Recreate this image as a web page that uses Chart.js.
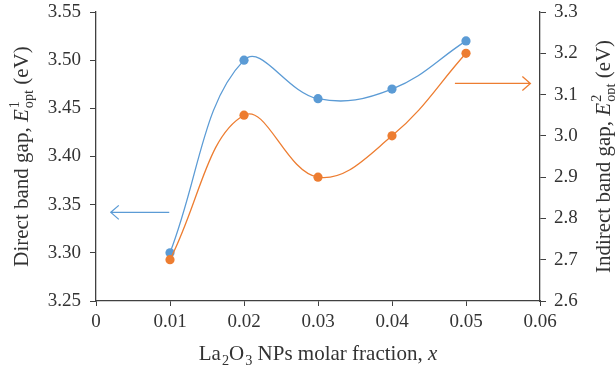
<!DOCTYPE html>
<html>
<head>
<meta charset="utf-8">
<title>La2O3 band gap</title>
<script src="https://cdn.jsdelivr.net/npm/chart.js@4.4.1/dist/chart.umd.min.js"></script>
<style>
  html, body { margin: 0; padding: 0; background: #fff; }
  canvas { display: block; }
</style>
</head>
<body>
<canvas id="gapChart" width="615" height="370"></canvas>
<script>
// values
const molarFraction = [0.01, 0.02, 0.03, 0.04, 0.05];
const directGap = [3.30, 3.50, 3.46, 3.47, 3.52];     // left axis, E1opt
const indirectGap = [2.70, 3.05, 2.90, 3.00, 3.20];   // right axis, E2opt

const xTicks = [0, 0.01, 0.02, 0.03, 0.04, 0.05, 0.06];
const leftTicks = [3.25, 3.30, 3.35, 3.40, 3.45, 3.50, 3.55];
const rightTicks = [2.6, 2.7, 2.8, 2.9, 3.0, 3.1, 3.2, 3.3];

// arrows pointing at each series' axis (data units)
const blueArrow = { from: 0.0099, to: 0.0020, at: 3.342, axis: "y" };
const orangeArrow = { from: 0.0485, to: 0.0587, at: 3.127, axis: "y2" };

const BLUE = "#5B9BD5";
const ORANGE = "#ED7D31";
const AXIS = "#404040";
const FONT = "'Liberation Serif', 'DejaVu Serif', serif";

// axis titles with sub/superscripts
const leftTitle = [{ t: "Direct band gap, " }, { t: "E", it: true }, { sup: "1", sub: "opt" }, { t: " (eV)" }];
const rightTitle = [{ t: "Indirect band gap, " }, { t: "E", it: true }, { sup: "2", sub: "opt" }, { t: " (eV)" }];
const bottomTitle = [{ t: "La" }, { sub: "2" }, { t: "O" }, { sub: "3" }, { t: " NPs molar fraction, " }, { t: "x", it: true }];

function setFont(ctx, size, italic) {
  ctx.font = (italic ? "italic " : "") + size + "px " + FONT;
}

function partWidth(ctx, p, size) {
  if (p.t !== undefined) {
    setFont(ctx, size, p.it);
    return ctx.measureText(p.t).width;
  }
  setFont(ctx, size * 0.68, false);
  const a = p.sup ? ctx.measureText(p.sup).width : 0;
  const b = p.sub ? ctx.measureText(p.sub).width : 0;
  return Math.max(a, b) + 1;
}

function drawRich(ctx, parts, size, cx, cy, rot) {
  ctx.save();
  ctx.translate(cx, cy);
  ctx.rotate(rot);
  ctx.fillStyle = "#333";
  ctx.textAlign = "left";
  ctx.textBaseline = "alphabetic";
  const total = parts.reduce((s, p) => s + partWidth(ctx, p, size), 0);
  let x = -total / 2;
  parts.forEach(p => {
    const w = partWidth(ctx, p, size);
    if (p.t !== undefined) {
      setFont(ctx, size, p.it);
      ctx.fillText(p.t, x, 0);
    } else {
      setFont(ctx, size * 0.68, false);
      if (p.sup) ctx.fillText(p.sup, x + 1, -size * 0.42);
      if (p.sub) ctx.fillText(p.sub, x + 1, size * 0.24);
    }
    x += w;
  });
  ctx.restore();
}

function drawArrow(ctx, x1, y1, x2, y2, color) {
  const dir = Math.sign(x2 - x1);
  ctx.save();
  ctx.strokeStyle = color;
  ctx.lineWidth = 1.3;
  ctx.beginPath();
  ctx.moveTo(x1, y1);
  ctx.lineTo(x2, y2);
  ctx.moveTo(x2 - dir * 8, y2 - 7);
  ctx.lineTo(x2, y2);
  ctx.lineTo(x2 - dir * 8, y2 + 7);
  ctx.stroke();
  ctx.restore();
}

const extrasPlugin = {
  id: "extras",
  afterDraw(chart) {
    const { ctx, chartArea, scales } = chart;
    const midX = (chartArea.left + chartArea.right) / 2;
    const midY = (chartArea.top + chartArea.bottom) / 2;
    drawRich(ctx, leftTitle, 21, 28, midY, -Math.PI / 2);
    drawRich(ctx, rightTitle, 21, 610, midY, -Math.PI / 2);
    drawRich(ctx, bottomTitle, 21, midX, 360, 0);

    [[blueArrow, BLUE], [orangeArrow, ORANGE]].forEach(([a, c]) => {
      const y = scales[a.axis].getPixelForValue(a.at);
      drawArrow(ctx, scales.x.getPixelForValue(a.from), y, scales.x.getPixelForValue(a.to), y, c);
    });
  }
};

function fixedTicks(list) {
  return scale => { scale.ticks = list.map(v => ({ value: v })); };
}

// fixed widths so the plot area sits where it does in the figure
function fixWidth(w) {
  return s => { s.width = w; s.paddingTop = 0; s.paddingBottom = 0; };
}

const axisGrid = { display: true, drawOnChartArea: false, drawTicks: true, tickLength: 6, color: AXIS, lineWidth: 1 };
const axisBorder = { display: true, color: AXIS, width: 1.3 };
const tickFont = { family: FONT, size: 19 };

new Chart(document.getElementById("gapChart"), {
  type: "line",
  data: {
    datasets: [
      {
        label: "Direct",
        data: molarFraction.map((x, i) => ({ x, y: directGap[i] })),
        yAxisID: "y",
        borderColor: BLUE,
        backgroundColor: BLUE,
        order: 1
      },
      {
        label: "Indirect",
        data: molarFraction.map((x, i) => ({ x, y: indirectGap[i] })),
        yAxisID: "y2",
        borderColor: ORANGE,
        backgroundColor: ORANGE,
        order: 0
      }
    ]
  },
  options: {
    responsive: false,
    animation: false,
    devicePixelRatio: 1,
    layout: { padding: { top: 12, left: 0, right: 0, bottom: 0 } },
    elements: {
      line: { borderWidth: 1.3, tension: 0.4, fill: false },
      point: { radius: 4.6, borderWidth: 0, hoverRadius: 4.6 }
    },
    plugins: { legend: { display: false }, tooltip: { enabled: false } },
    scales: {
      x: {
        type: "linear",
        min: 0,
        max: 0.06,
        afterBuildTicks: fixedTicks(xTicks),
        afterFit: s => { s.height = 69; s.paddingLeft = 0; s.paddingRight = 0; },
        grid: { ...axisGrid, tickLength: 5 },
        border: axisBorder,
        ticks: {
          font: tickFont,
          color: "#333",
          padding: 5,
          maxRotation: 0,
          callback: v => (v === 0 ? "0" : v.toFixed(2))
        }
      },
      y: {
        position: "left",
        min: 3.25,
        max: 3.55,
        afterBuildTicks: fixedTicks(leftTicks),
        afterFit: fixWidth(96),
        grid: axisGrid,
        border: axisBorder,
        ticks: { font: tickFont, color: "#333", padding: 9, callback: v => v.toFixed(2) }
      },
      y2: {
        position: "right",
        min: 2.6,
        max: 3.3,
        afterBuildTicks: fixedTicks(rightTicks),
        afterFit: fixWidth(75),
        grid: axisGrid,
        border: axisBorder,
        ticks: { font: tickFont, color: "#333", padding: 8, callback: v => v.toFixed(1) }
      }
    }
  },
  plugins: [extrasPlugin]
});
</script>
</body>
</html>
